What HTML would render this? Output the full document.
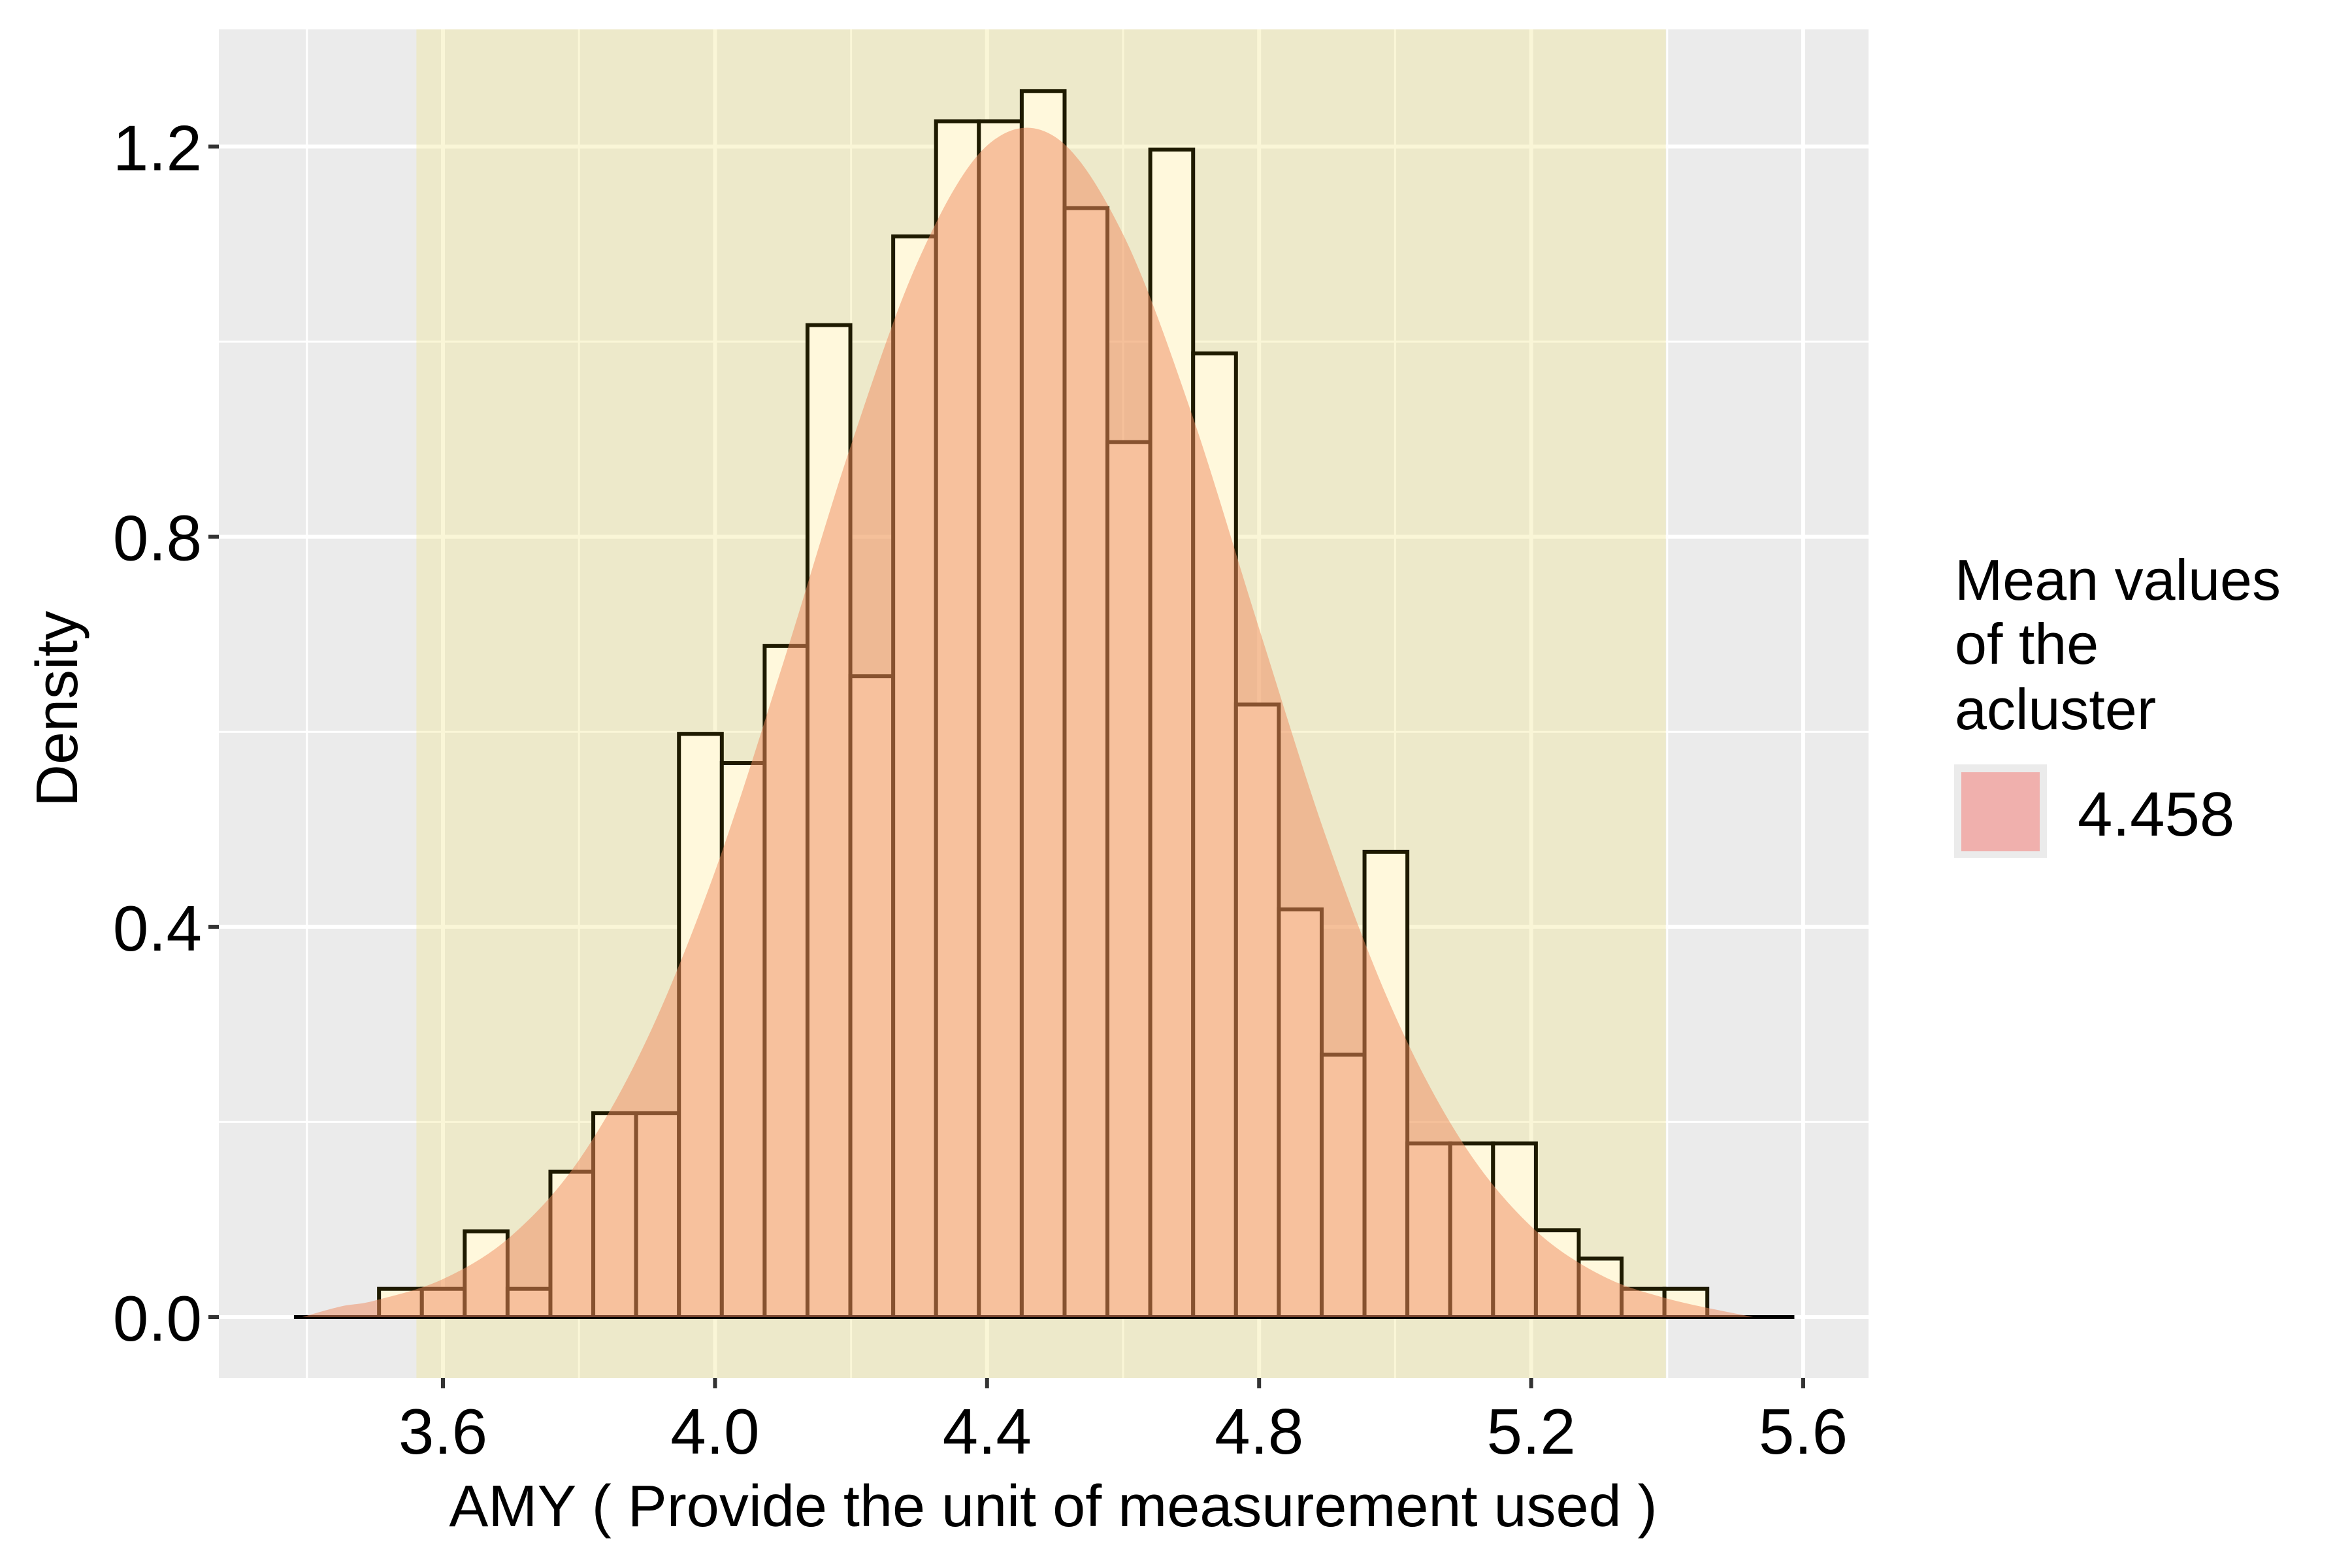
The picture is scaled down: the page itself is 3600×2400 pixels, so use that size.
<!DOCTYPE html>
<html><head><meta charset="utf-8"><style>
html,body{margin:0;padding:0;background:#fff;}
svg{display:block;font-family:"Liberation Sans",Arial,sans-serif;}
</style></head><body>
<svg id="chart" width="3600" height="2400" viewBox="0 0 3600 2400" xmlns="http://www.w3.org/2000/svg">
<rect x="0" y="0" width="3600" height="2400" fill="#ffffff"/>
<g id="panel"></g>
<g id="axes"></g>
<text x="1612" y="2336" font-size="90" text-anchor="middle" fill="#000">AMY ( Provide the unit of measurement used )</text>
<text transform="translate(118,1085) rotate(-90)" font-size="90" text-anchor="middle" fill="#000">Density</text>
<g>
<text x="2992" y="918" font-size="88" fill="#000">Mean values</text>
<text x="2992" y="1016" font-size="88" fill="#000">of the</text>
<text x="2992" y="1116" font-size="88" fill="#000">acluster</text>
<rect x="2991" y="1170" width="142" height="143" fill="#ebebeb"/>
<rect x="3002" y="1182" width="120" height="121" fill="#f0b0ad"/>
<text x="3180" y="1279" font-size="96" fill="#000">4.458</text>
</g>
</svg>
<script>
const binStart = 3.506;
const binWidth = 0.0630;
const densities = [0.029,0.029,0.088,0.029,0.149,0.209,0.209,0.598,0.568,0.688,1.017,0.657,1.108,1.226,1.226,1.257,1.137,0.897,1.197,0.988,0.628,0.418,0.269,0.477,0.178,0.178,0.178,0.089,0.060,0.029,0.029];
const curveX = [3.393,3.45,3.5,3.6,3.7,3.8,3.9,4.0,4.1,4.2,4.3,4.4,4.5,4.6,4.7,4.8,4.9,5.0,5.1,5.2,5.3,5.4,5.527];
const curveY = [0.0,0.011,0.017,0.039,0.083,0.161,0.285,0.457,0.670,0.894,1.085,1.201,1.210,1.110,0.928,0.706,0.489,0.309,0.178,0.093,0.044,0.019,0.0];
const xTicks = [3.6,4.0,4.4,4.8,5.2,5.6];
const xTickLabels = ["3.6","4.0","4.4","4.8","5.2","5.6"];
const yTicks = [0.0,0.4,0.8,1.2];
const yTickLabels = ["0.0","0.4","0.8","1.2"];
const bandRange = [3.561,5.398];
const meanValue = 4.458;

const NS="http://www.w3.org/2000/svg";
const P={l:335,t:45,r:2860,b:2109};
function xs(v){return 678+(v-3.6)*1041;}
function ys(v){return 2016-v*1493;}
function mk(tag,attrs,parent){const e=document.createElementNS(NS,tag);for(const k in attrs)e.setAttribute(k,attrs[k]);parent.appendChild(e);return e;}
const panel=document.getElementById('panel');
const axes=document.getElementById('axes');
let e;
e=mk('rect',{x:P.l,y:P.t,width:P.r-P.l,height:P.b-P.t,fill:'#ebebeb'},panel);


for(let i=0;i<yTicks.length-1;i++){
  const v=(yTicks[i]+yTicks[i+1])/2;
  e=mk('line',{x1:P.l,x2:P.r,y1:ys(v),y2:ys(v),stroke:'#fff','stroke-width':3},panel);
  
  
}
for(let i=-1;i<xTicks.length;i++){
  const v=i<0?xTicks[0]-0.2:xTicks[i]+0.2;
  if(xs(v)<P.l||xs(v)>P.r)continue;
  e=mk('line',{x1:xs(v),x2:xs(v),y1:P.t,y2:P.b,stroke:'#fff','stroke-width':3},panel);
  
  
}
yTicks.forEach(v=>{
  e=mk('line',{x1:P.l,x2:P.r,y1:ys(v),y2:ys(v),stroke:'#fff','stroke-width':6},panel);
  
  
});
xTicks.forEach(v=>{
  e=mk('line',{x1:xs(v),x2:xs(v),y1:P.t,y2:P.b,stroke:'#fff','stroke-width':6},panel);
  
  
});
e=mk('rect',{x:xs(bandRange[0]),y:P.t,width:xs(bandRange[1])-xs(bandRange[0]),height:P.b-P.t,fill:'#f0e68c','fill-opacity':0.35},panel);


densities.forEach((d,i)=>{
  const x0=xs(binStart+i*binWidth),x1=xs(binStart+(i+1)*binWidth);
  e=mk('rect',{x:x0,y:ys(d),width:x1-x0,height:ys(0)-ys(d),fill:'#fff8dc',stroke:'#1e1a00','stroke-width':6},panel);
  
  
});
e=mk('line',{x1:xs(3.381),x2:xs(5.587),y1:ys(0),y2:ys(0),stroke:'#000','stroke-width':6},panel);


const pts=curveX.map((x,i)=>[xs(x),ys(curveY[i])]);
let d='M'+pts[0][0]+','+pts[0][1];
for(let i=0;i<pts.length-1;i++){
  const p0=pts[Math.max(0,i-1)],p1=pts[i],p2=pts[i+1],p3=pts[Math.min(pts.length-1,i+2)];
  const c1=[p1[0]+(p2[0]-p0[0])/6,p1[1]+(p2[1]-p0[1])/6];
  const c2=[p2[0]-(p3[0]-p1[0])/6,p2[1]-(p3[1]-p1[1])/6];
  d+=' C'+c1[0]+','+c1[1]+' '+c2[0]+','+c2[1]+' '+p2[0]+','+p2[1];
}
d+=' L'+pts[pts.length-1][0]+','+ys(0)+' L'+pts[0][0]+','+ys(0)+' Z';
e=mk('path',{d:d,fill:'#f08a5d','fill-opacity':0.5,stroke:'none'},panel);


yTicks.forEach((v,i)=>{
  e=mk('line',{x1:P.l-16,x2:P.l,y1:ys(v),y2:ys(v),stroke:'#333','stroke-width':6},axes);
  
  
  e=mk('text',{x:P.l-26,y:ys(v)+36,'font-size':98,'text-anchor':'end',fill:'#000'},axes);
  e.textContent=yTickLabels[i];
  
  
});
xTicks.forEach((v,i)=>{
  e=mk('line',{x1:xs(v),x2:xs(v),y1:P.b,y2:P.b+16,stroke:'#333','stroke-width':6},axes);
  
  
  e=mk('text',{x:xs(v),y:2225,'font-size':98,'text-anchor':'middle',fill:'#000'},axes);
  e.textContent=xTickLabels[i];
  
  
});
</script>
</body></html>
